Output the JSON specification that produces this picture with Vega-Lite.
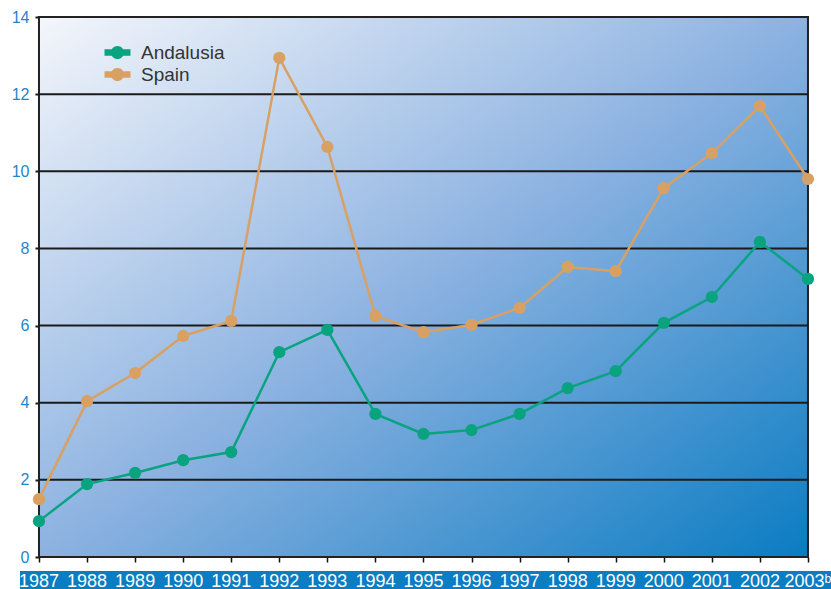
{
  "$schema": "https://vega.github.io/schema/vega-lite/v6.json",
  "padding": {"left": 11, "top": 9, "right": 0, "bottom": 0},
  "background": "white",
  "spacing": 6,
  "center": false,
  "datasets": {
    "series": [
      {"year": 1987, "region": "Andalusia", "value": 0.93},
      {"year": 1988, "region": "Andalusia", "value": 1.89},
      {"year": 1989, "region": "Andalusia", "value": 2.18},
      {"year": 1990, "region": "Andalusia", "value": 2.51},
      {"year": 1991, "region": "Andalusia", "value": 2.72},
      {"year": 1992, "region": "Andalusia", "value": 5.31},
      {"year": 1993, "region": "Andalusia", "value": 5.89},
      {"year": 1994, "region": "Andalusia", "value": 3.71},
      {"year": 1995, "region": "Andalusia", "value": 3.19},
      {"year": 1996, "region": "Andalusia", "value": 3.29},
      {"year": 1997, "region": "Andalusia", "value": 3.71},
      {"year": 1998, "region": "Andalusia", "value": 4.38},
      {"year": 1999, "region": "Andalusia", "value": 4.82},
      {"year": 2000, "region": "Andalusia", "value": 6.07},
      {"year": 2001, "region": "Andalusia", "value": 6.74},
      {"year": 2002, "region": "Andalusia", "value": 8.17},
      {"year": 2003, "region": "Andalusia", "value": 7.21},
      {"year": 1987, "region": "Spain", "value": 1.50},
      {"year": 1988, "region": "Spain", "value": 4.04},
      {"year": 1989, "region": "Spain", "value": 4.77},
      {"year": 1990, "region": "Spain", "value": 5.73},
      {"year": 1991, "region": "Spain", "value": 6.12},
      {"year": 1992, "region": "Spain", "value": 12.94},
      {"year": 1993, "region": "Spain", "value": 10.63},
      {"year": 1994, "region": "Spain", "value": 6.25},
      {"year": 1995, "region": "Spain", "value": 5.83},
      {"year": 1996, "region": "Spain", "value": 6.02},
      {"year": 1997, "region": "Spain", "value": 6.46},
      {"year": 1998, "region": "Spain", "value": 7.52},
      {"year": 1999, "region": "Spain", "value": 7.41},
      {"year": 2000, "region": "Spain", "value": 9.57},
      {"year": 2001, "region": "Spain", "value": 10.47},
      {"year": 2002, "region": "Spain", "value": 11.69},
      {"year": 2003, "region": "Spain", "value": 9.80}
    ],
    "grid": [
      {"level": 2}, {"level": 4}, {"level": 6}, {"level": 8}, {"level": 10}, {"level": 12}
    ],
    "years": [
      {"year": 1987, "label": "1987"},
      {"year": 1988, "label": "1988"},
      {"year": 1989, "label": "1989"},
      {"year": 1990, "label": "1990"},
      {"year": 1991, "label": "1991"},
      {"year": 1992, "label": "1992"},
      {"year": 1993, "label": "1993"},
      {"year": 1994, "label": "1994"},
      {"year": 1995, "label": "1995"},
      {"year": 1996, "label": "1996"},
      {"year": 1997, "label": "1997"},
      {"year": 1998, "label": "1998"},
      {"year": 1999, "label": "1999"},
      {"year": 2000, "label": "2000"},
      {"year": 2001, "label": "2001"},
      {"year": 2002, "label": "2002"},
      {"year": 2003, "label": "2003ᵇ"}
    ]
  },
  "vconcat": [
    {
      "width": 811,
      "height": 540,
      "view": {"stroke": null, "fill": null},
      "layer": [
        {
          "data": {"values": [{"panel": "plot"}]},
          "mark": {
            "type": "rect",
            "stroke": "#222222",
            "strokeWidth": 2,
            "fill": {
              "gradient": "linear",
              "x1": 0, "y1": 0, "x2": 1, "y2": 1,
              "stops": [
                {"offset": 0, "color": "#f4f6fb"},
                {"offset": 0.5, "color": "#8cb2e1"},
                {"offset": 1, "color": "#0a7cc2"}
              ]
            }
          },
          "encoding": {
            "x": {"datum": 1987, "type": "quantitative"},
            "x2": {"datum": 2003},
            "y": {"datum": 0, "type": "quantitative"},
            "y2": {"datum": 14}
          }
        },
        {
          "data": {"name": "grid"},
          "mark": {"type": "rule", "color": "#1a1a1a", "strokeWidth": 2},
          "encoding": {
            "y": {"field": "level", "type": "quantitative"},
            "x": {"datum": 1987, "type": "quantitative"},
            "x2": {"datum": 2003}
          }
        },
        {
          "data": {"name": "series"},
          "encoding": {
            "x": {
              "field": "year", "type": "quantitative",
              "scale": {"domain": [1986.605, 2003.479], "nice": false, "zero": false},
              "axis": {
                "values": [1987,1988,1989,1990,1991,1992,1993,1994,1995,1996,1997,1998,1999,2000,2001,2002,2003],
                "labels": false, "ticks": true, "tickSize": 5, "tickColor": "#111111", "tickWidth": 1.5,
                "domain": false, "grid": false, "title": null, "minExtent": 0
              }
            },
            "y": {
              "field": "value", "type": "quantitative",
              "scale": {"domain": [0, 14], "nice": false},
              "axis": {
                "values": [0, 2, 4, 6, 8, 10, 12, 14],
                "offset": -19,
                "grid": false,
                "ticks": true, "tickSize": 4, "tickColor": "#1a1a1a", "tickWidth": 2,
                "domain": false,
                "labelColor": "#1f86c9", "labelFontSize": 16, "labelFont": "Liberation Sans",
                "labelPadding": 6, "title": null, "minExtent": 0
              }
            },
            "color": {
              "field": "region", "type": "nominal",
              "scale": {"domain": ["Andalusia", "Spain"], "range": ["#0aa37f", "#d8a163"]},
              "legend": {
                "title": null,
                "orient": "none",
                "legendX": 88,
                "legendY": 26,
                "symbolType": "M-1.857,-0.46 L1.857,-0.46 L1.857,0.46 L-1.857,0.46 Z M-0.93,0 A0.93,0.93 0 1,1 0.93,0 A0.93,0.93 0 1,1 -0.93,0 Z",
                "symbolSize": 196,
                "symbolStrokeWidth": 0,
                "symbolOpacity": 1,
                "labelFont": "Liberation Sans",
                "labelFontSize": 19,
                "labelColor": "#333333",
                "labelOffset": 14,
                "rowPadding": 2
              }
            }
          },
          "layer": [
            {"mark": {"type": "line", "strokeWidth": 2.5}},
            {"mark": {"type": "point", "filled": true, "opacity": 1, "size": 150, "shape": "circle"}}
          ]
        }
      ]
    },
    {
      "width": 811,
      "height": 21,
      "view": {"fill": "#0b7dc3", "stroke": null},
      "data": {"name": "years"},
      "mark": {"type": "text", "color": "white", "fontSize": 18, "font": "Liberation Sans", "align": "center", "baseline": "middle"},
      "encoding": {
        "x": {
          "field": "year", "type": "quantitative",
          "scale": {"domain": [1986.605, 2003.479], "nice": false, "zero": false},
          "axis": null
        },
        "y": {"datum": 0.5, "type": "quantitative", "scale": {"domain": [0, 1]}, "axis": null},
        "text": {"field": "label"}
      }
    }
  ]
}
